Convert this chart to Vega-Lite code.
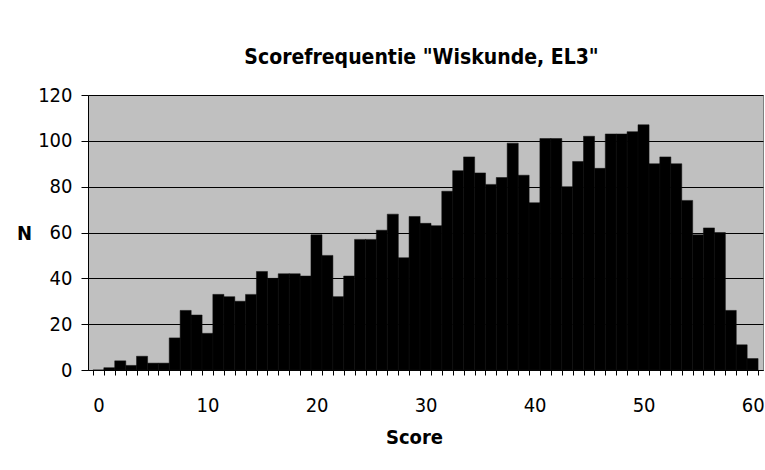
{
  "$schema": "https://vega.github.io/schema/vega-lite/v6.json",
  "autosize": "none",
  "width": 675,
  "height": 275,
  "padding": {"left": 88, "top": 95, "right": 2, "bottom": 100},
  "background": "white",
  "config": {
    "font": "DejaVu Sans Condensed, Noto Sans",
    "view": {"fill": "#C0C0C0", "stroke": "#808080", "strokeWidth": 1}
  },
  "title": {
    "text": "Scorefrequentie \"Wiskunde, EL3\"",
    "fontSize": 21,
    "fontWeight": "bold",
    "color": "black",
    "anchor": "middle",
    "offset": 17,
    "dx": -4
  },
  "data": {
    "values": [
      {"score": 0, "n": 0}, {"score": 1, "n": 1}, {"score": 2, "n": 4}, {"score": 3, "n": 2},
      {"score": 4, "n": 6}, {"score": 5, "n": 3}, {"score": 6, "n": 3}, {"score": 7, "n": 14},
      {"score": 8, "n": 26}, {"score": 9, "n": 24}, {"score": 10, "n": 16}, {"score": 11, "n": 33},
      {"score": 12, "n": 32}, {"score": 13, "n": 30}, {"score": 14, "n": 33}, {"score": 15, "n": 43},
      {"score": 16, "n": 40}, {"score": 17, "n": 42}, {"score": 18, "n": 42}, {"score": 19, "n": 41},
      {"score": 20, "n": 59}, {"score": 21, "n": 50}, {"score": 22, "n": 32}, {"score": 23, "n": 41},
      {"score": 24, "n": 57}, {"score": 25, "n": 57}, {"score": 26, "n": 61}, {"score": 27, "n": 68},
      {"score": 28, "n": 49}, {"score": 29, "n": 67}, {"score": 30, "n": 64}, {"score": 31, "n": 63},
      {"score": 32, "n": 78}, {"score": 33, "n": 87}, {"score": 34, "n": 93}, {"score": 35, "n": 86},
      {"score": 36, "n": 81}, {"score": 37, "n": 84}, {"score": 38, "n": 99}, {"score": 39, "n": 85},
      {"score": 40, "n": 73}, {"score": 41, "n": 101}, {"score": 42, "n": 101}, {"score": 43, "n": 80},
      {"score": 44, "n": 91}, {"score": 45, "n": 102}, {"score": 46, "n": 88}, {"score": 47, "n": 103},
      {"score": 48, "n": 103}, {"score": 49, "n": 104}, {"score": 50, "n": 107}, {"score": 51, "n": 90},
      {"score": 52, "n": 93}, {"score": 53, "n": 90}, {"score": 54, "n": 74}, {"score": 55, "n": 59},
      {"score": 56, "n": 62}, {"score": 57, "n": 60}, {"score": 58, "n": 26}, {"score": 59, "n": 11},
      {"score": 60, "n": 5}
    ]
  },
  "mark": {"type": "bar", "color": "black", "width": 11.07, "stroke": "#111111", "strokeWidth": 0.5},
  "encoding": {
    "x": {
      "field": "score",
      "type": "quantitative",
      "scale": {"domain": [-0.5, 60.5], "nice": false, "zero": false},
      "axis": {
        "title": "Score",
        "titleFontSize": 20,
        "titleFontWeight": "bold",
        "titleColor": "black",
        "titlePadding": 12,
        "titleX": 326,
        "titleAlign": "center",
        "values": [-0.5, 0.5, 1.5, 2.5, 3.5, 4.5, 5.5, 6.5, 7.5, 8.5, 9.5, 10.5, 11.5, 12.5, 13.5, 14.5, 15.5, 16.5, 17.5, 18.5, 19.5, 20.5, 21.5, 22.5, 23.5, 24.5, 25.5, 26.5, 27.5, 28.5, 29.5, 30.5, 31.5, 32.5, 33.5, 34.5, 35.5, 36.5, 37.5, 38.5, 39.5, 40.5, 41.5, 42.5, 43.5, 44.5, 45.5, 46.5, 47.5, 48.5, 49.5, 50.5, 51.5, 52.5, 53.5, 54.5, 55.5, 56.5, 57.5, 58.5, 59.5, 60.5],
        "labelExpr": "(datum.value + 0.5) % 10 == 0 ? format(datum.value + 0.5, 'd') : ''",
        "labelOffset": 5.53,
        "labelAlign": "center",
        "labelOverlap": false,
        "labelBound": false,
        "labelFlush": false,
        "labelFontSize": 20,
        "labelColor": "black",
        "labelPadding": 20,
        "tickSize": 5,
        "tickColor": "black",
        "domainColor": "black",
        "grid": false
      }
    },
    "y": {
      "field": "n",
      "type": "quantitative",
      "scale": {"domain": [0, 120], "nice": false},
      "axis": {
        "title": "N",
        "titleAngle": 0,
        "titleFontSize": 20,
        "titleFontWeight": "bold",
        "titleColor": "black",
        "titleX": -64,
        "titleY": 138,
        "titleAlign": "center",
        "titleBaseline": "middle",
        "values": [0, 20, 40, 60, 80, 100, 120],
        "labelFontSize": 20,
        "labelColor": "black",
        "labelPadding": 9,
        "tickSize": 7,
        "tickColor": "black",
        "domainColor": "black",
        "grid": true,
        "gridColor": "black",
        "gridOpacity": 1
      }
    }
  }
}
